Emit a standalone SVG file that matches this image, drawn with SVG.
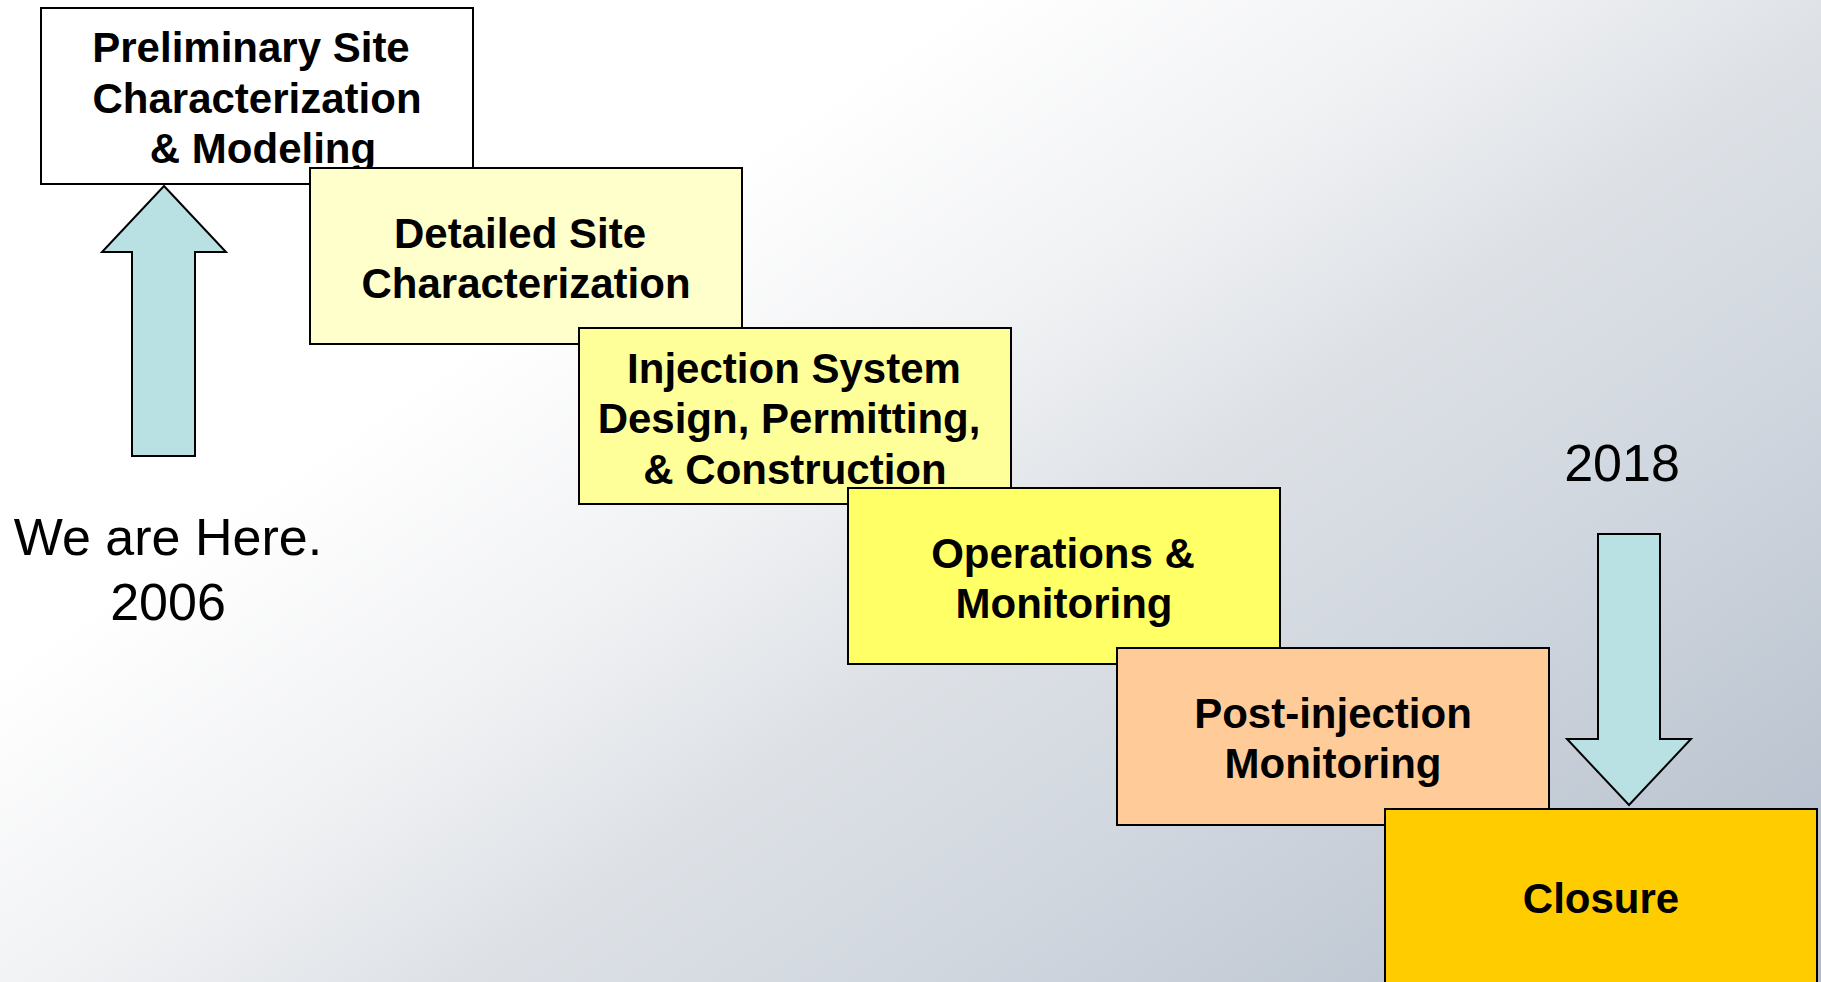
<svg xmlns="http://www.w3.org/2000/svg" width="1821" height="982" viewBox="0 0 1821 982">
<defs>
<linearGradient id="bg" gradientUnits="userSpaceOnUse" x1="0" y1="0" x2="1049" y2="1515">
<stop offset="0" stop-color="#FFFFFF"/>
<stop offset="0.3" stop-color="#FFFFFF"/>
<stop offset="0.45" stop-color="#F1F2F4"/>
<stop offset="0.58" stop-color="#DDE1E6"/>
<stop offset="0.72" stop-color="#D1D7DF"/>
<stop offset="1" stop-color="#B2BCCA"/>
</linearGradient>
<style>
.box{stroke:#000;stroke-width:2}
.t{font-family:"Liberation Sans",Arial,sans-serif;font-weight:bold;font-size:42px;fill:#000;text-anchor:middle}
.n{font-family:"Liberation Sans",Arial,sans-serif;font-size:52px;fill:#000;text-anchor:middle}
.arr{fill:#B9E0E3;stroke:#000;stroke-width:2;stroke-linejoin:miter}
</style>
</defs>
<rect x="0" y="0" width="1821" height="982" fill="url(#bg)"/>
<g id="n1">
<rect class="box" x="41" y="8" width="432" height="176" fill="#FFFFFF"/>
<text class="t"><tspan x="251" y="62">Preliminary Site</tspan><tspan x="257" y="113">Characterization</tspan><tspan x="263" y="163">&amp; Modeling</tspan></text>
</g>
<g id="n2">
<rect class="box" x="310" y="168" width="432" height="176" fill="#FFFFCC"/>
<text class="t"><tspan x="520" y="248">Detailed Site</tspan><tspan x="526" y="298">Characterization</tspan></text>
</g>
<g id="n3">
<rect class="box" x="579" y="328" width="432" height="176" fill="#FFFF99"/>
<text class="t"><tspan x="794" y="383">Injection System</tspan><tspan x="789" y="433">Design, Permitting,</tspan><tspan x="795" y="484">&amp; Construction</tspan></text>
</g>
<g id="n4">
<rect class="box" x="848" y="488" width="432" height="176" fill="#FFFF66"/>
<text class="t"><tspan x="1063" y="568">Operations &amp;</tspan><tspan x="1064" y="618">Monitoring</tspan></text>
</g>
<g id="n5">
<rect class="box" x="1117" y="648" width="432" height="177" fill="#FFCC99"/>
<text class="t"><tspan x="1333" y="728">Post-injection</tspan><tspan x="1333" y="778">Monitoring</tspan></text>
</g>
<g id="n6">
<rect class="box" x="1385" y="809" width="432" height="190" fill="#FFCC00"/>
<text class="t" x="1601" y="913">Closure</text>
</g>
<g id="connectors">
<polygon class="arr" points="164,186 226,252 195,252 195,456 132,456 132,252 102,252"/>
<polygon class="arr" points="1598,534 1660,534 1660,739 1691,739 1629,805 1567,739 1598,739"/>
</g>
<g id="labels">
<text class="n"><tspan x="168" y="555">We are Here.</tspan><tspan x="168" y="620">2006</tspan></text>
<text class="n" x="1622" y="481">2018</text>
</g>
</svg>
